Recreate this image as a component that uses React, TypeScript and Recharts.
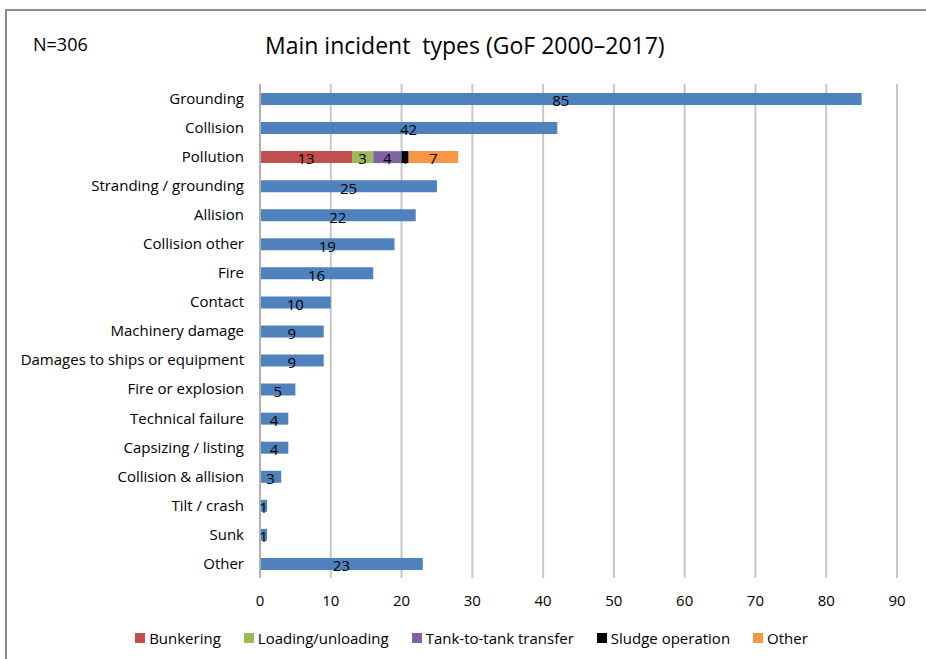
import React from "react";
import { BarChart, Bar, XAxis, YAxis, CartesianGrid, Legend, LabelList } from "recharts";

const categories = [
  "Grounding",
  "Collision",
  "Pollution",
  "Stranding / grounding",
  "Allision",
  "Collision other",
  "Fire",
  "Contact",
  "Machinery damage",
  "Damages to ships or equipment",
  "Fire or explosion",
  "Technical failure",
  "Capsizing / listing",
  "Collision & allision",
  "Tilt / crash",
  "Sunk",
  "Other",
];

const incidentCounts: (number | null)[] = [85, 42, null, 25, 22, 19, 16, 10, 9, 9, 5, 4, 4, 3, 1, 1, 23];
const bunkering: (number | null)[] = [null, null, 13, null, null, null, null, null, null, null, null, null, null, null, null, null, null];
const loadingUnloading: (number | null)[] = [null, null, 3, null, null, null, null, null, null, null, null, null, null, null, null, null, null];
const tankTransfer: (number | null)[] = [null, null, 4, null, null, null, null, null, null, null, null, null, null, null, null, null, null];
const sludgeOperation: (number | null)[] = [null, null, 1, null, null, null, null, null, null, null, null, null, null, null, null, null, null];
const pollutionOther: (number | null)[] = [null, null, 7, null, null, null, null, null, null, null, null, null, null, null, null, null, null];

const xTicks = [0, 10, 20, 30, 40, 50, 60, 70, 80, 90];

const legendItems = [
  { name: "Bunkering", color: "#C0504D" },
  { name: "Loading/unloading", color: "#9BBB59" },
  { name: "Tank-to-tank transfer", color: "#8064A2" },
  { name: "Sludge operation", color: "#000000" },
  { name: "Other", color: "#F79646" },
];

const data = categories.map((c, i) => ({
  name: c,
  total: incidentCounts[i],
  bunkering: bunkering[i],
  loading: loadingUnloading[i],
  tank: tankTransfer[i],
  sludge: sludgeOperation[i],
  other: pollutionOther[i],
}));

const FONT = "'Open Sans', Lato, sans-serif";

const fmt = (v: any) => (v === null || v === undefined ? "" : v);

const labelStyle = { fill: "#000", fontSize: 15, fontFamily: FONT };

const renderLegend = () => (
  <div
    style={{
      display: "flex",
      justifyContent: "center",
      alignItems: "center",
      width: 926,
      fontFamily: FONT,
      fontSize: 15,
      color: "#000",
      paddingLeft: 20,
      boxSizing: "border-box",
    }}
  >
    {legendItems.map((it) => (
      <div key={it.name} style={{ display: "flex", alignItems: "center", marginRight: 23 }}>
        <span style={{ display: "inline-block", width: 10, height: 10, background: it.color, marginRight: 4 }} />
        <span>{it.name}</span>
      </div>
    ))}
  </div>
);

export default function App() {
  return (
    <div style={{ position: "fixed", left: 0, top: 0, width: 926, height: 659, background: "#fff", fontFamily: FONT, overflow: "hidden" }}>
      <div style={{ position: "absolute", left: 0, top: 0 }}>
        <BarChart
          width={926}
          height={659}
          data={data}
          layout="vertical"
          margin={{ top: 84, right: 29, left: 10, bottom: 0 }}
          barSize={12}
        >
          <CartesianGrid horizontal={false} vertical={true} stroke="#c8c8c8" strokeWidth={2} />
          <XAxis
            type="number"
            domain={[0, 90]}
            ticks={xTicks}
            interval={0}
            axisLine={false}
            tickLine={false}
            tickSize={0}
            tickMargin={17}
            height={50}
            tick={{ fill: "#000", fontSize: 15, fontFamily: FONT }}
          />
          <YAxis
            type="category"
            dataKey="name"
            width={250}
            interval={0}
            axisLine={{ stroke: "#b0b0b0", strokeWidth: 2 }}
            tickLine={false}
            tickSize={0}
            tickMargin={16}
            tick={{ fill: "#000", fontSize: 15, fontFamily: FONT }}
          />
          <Legend verticalAlign="bottom" height={31} content={renderLegend} />
          <Bar dataKey="total" name="Incidents" stackId="a" fill="#4F81BD" legendType="none" isAnimationActive={false}>
            <LabelList dataKey="total" position="center" formatter={fmt} style={labelStyle} dy={2} />
          </Bar>
          <Bar dataKey="bunkering" name="Bunkering" stackId="a" fill="#C0504D" isAnimationActive={false}>
            <LabelList dataKey="bunkering" position="center" formatter={fmt} style={labelStyle} dy={2} />
          </Bar>
          <Bar dataKey="loading" name="Loading/unloading" stackId="a" fill="#9BBB59" isAnimationActive={false}>
            <LabelList dataKey="loading" position="center" formatter={fmt} style={labelStyle} dy={2} />
          </Bar>
          <Bar dataKey="tank" name="Tank-to-tank transfer" stackId="a" fill="#8064A2" isAnimationActive={false}>
            <LabelList dataKey="tank" position="center" formatter={fmt} style={labelStyle} dy={2} />
          </Bar>
          <Bar dataKey="sludge" name="Sludge operation" stackId="a" fill="#000000" isAnimationActive={false}>
            <LabelList dataKey="sludge" position="center" formatter={fmt} style={labelStyle} dy={2} />
          </Bar>
          <Bar dataKey="other" name="Other" stackId="a" fill="#F79646" isAnimationActive={false}>
            <LabelList dataKey="other" position="center" formatter={fmt} style={labelStyle} dy={2} />
          </Bar>
        </BarChart>
      </div>
      <div style={{ position: "absolute", left: 33, top: 32, fontSize: 18, color: "#000" }}>N=306</div>
      <div style={{ position: "absolute", left: 265, top: 29, fontSize: 23, color: "#000", whiteSpace: "pre" }}>
        {"Main incident  types (GoF 2000\u20132017)"}
      </div>
      <div style={{ position: "absolute", left: 5, top: 9, width: 921, height: 2, background: "#8a8a8a" }} />
      <div style={{ position: "absolute", left: 5, top: 9, width: 2, height: 650, background: "#8a8a8a" }} />
    </div>
  );
}
